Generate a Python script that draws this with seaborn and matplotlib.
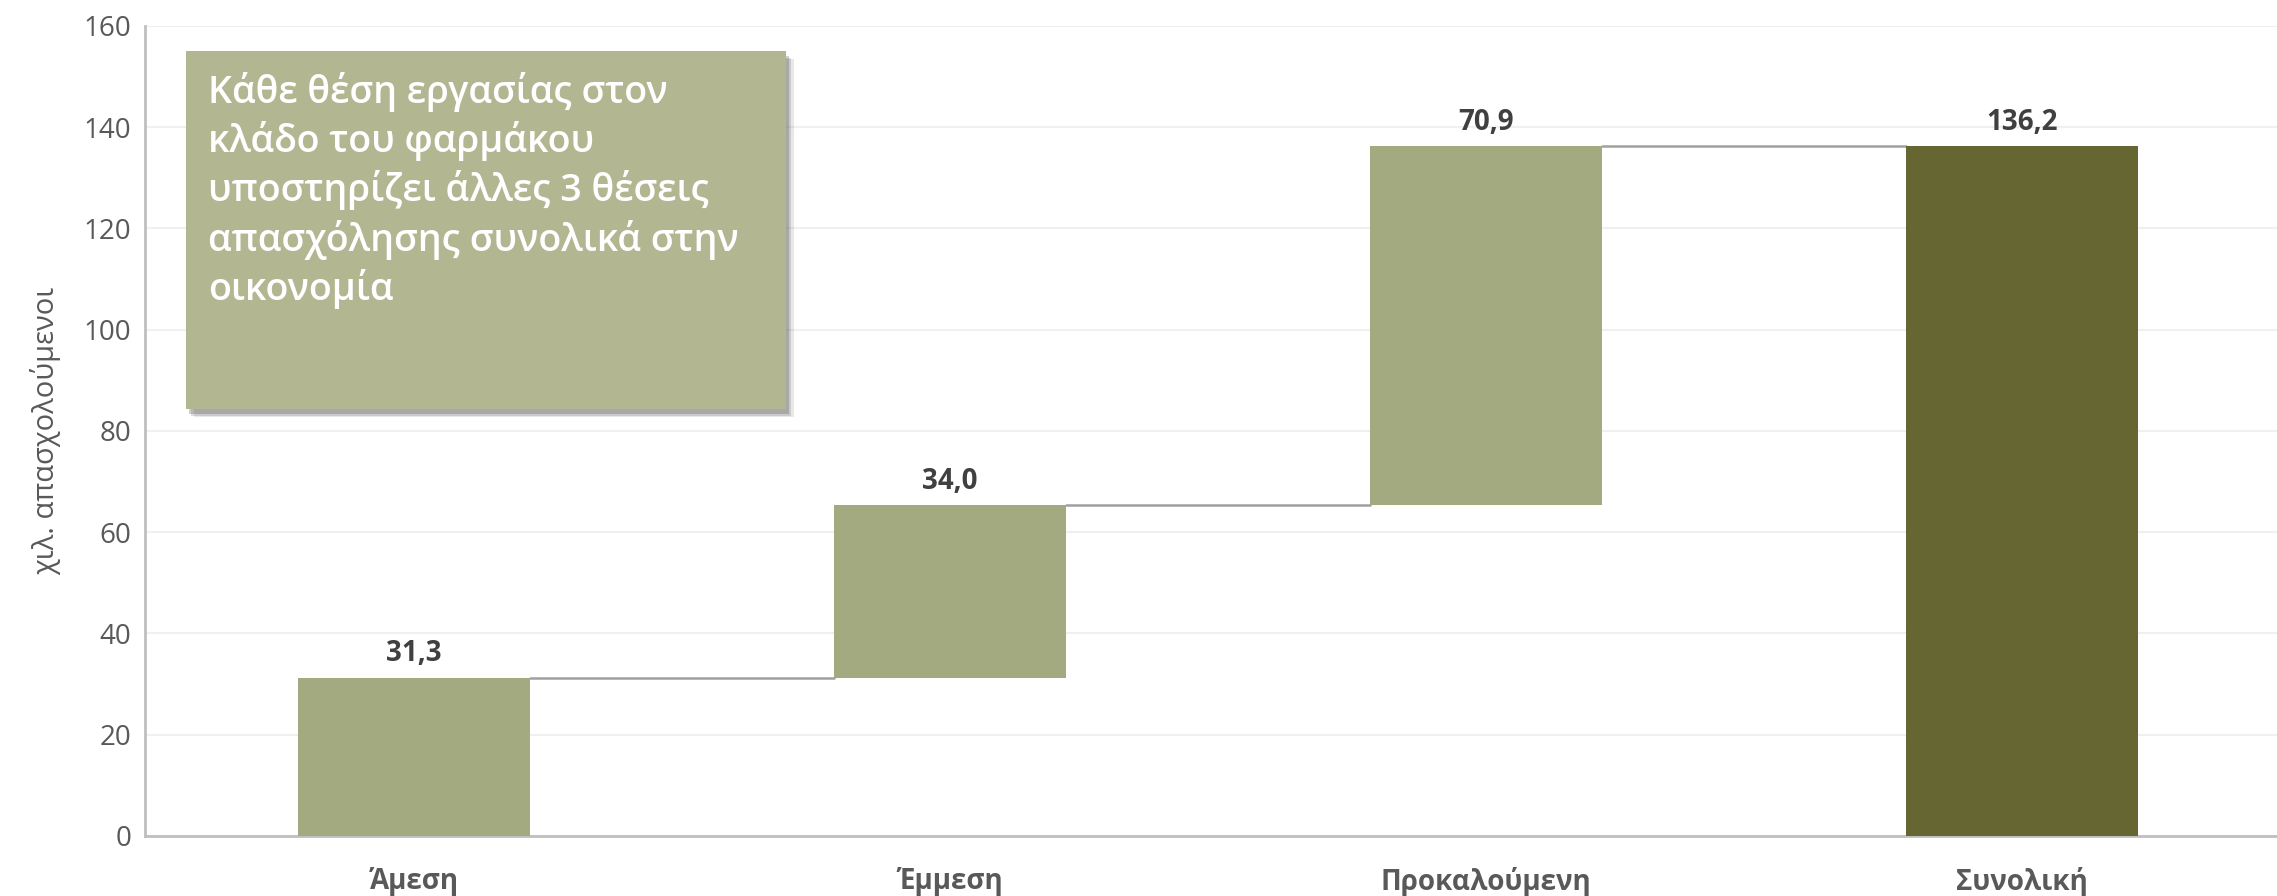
import matplotlib
matplotlib.use("Agg")
import matplotlib.pyplot as plt
import matplotlib.patches as mpatches
import seaborn as sns
import numpy as np
import pandas as pd

categories = ["Άμεση", "Έμμεση", "Προκαλούμενη", "Συνολική"]
values = [31.3, 34.0, 70.9, 136.2]
value_labels = ["31,3", "34,0", "70,9", "136,2"]
is_total = [False, False, False, True]
yticks = [0, 20, 40, 60, 80, 100, 120, 140, 160]
ylabel = "χιλ. απασχολούμενοι"
note = "Κάθε θέση εργασίας στον\nκλάδο του φαρμάκου\nυποστηρίζει άλλες 3 θέσεις\nαπασχόλησης συνολικά στην\nοικονομία"

sns.set_theme(style="white")
plt.rcParams["font.family"] = ["Open Sans", "DejaVu Sans"]

# waterfall bottoms
bottoms = []
run = 0.0
for v, t in zip(values, is_total):
    if t:
        bottoms.append(0.0)
    else:
        bottoms.append(run)
        run += v
tops = [b + v for b, v in zip(bottoms, values)]

light = "#a4aa80"
dark = "#666633"

df = pd.DataFrame({"cat": categories, "val": values, "bottom": bottoms, "total": is_total})
df_step = df[~df["total"]]
df_tot = df[df["total"]]

fig = plt.figure(figsize=(22.77, 8.96), dpi=100)
ax = fig.add_axes([0.0637, 0.067, 0.9363, 0.904])

bw = 0.434
sns.barplot(data=df_step, x="cat", y="val", order=categories, color=light,
            width=bw, bottom=df_step["bottom"].values, ax=ax, saturation=1,
            linewidth=0, zorder=3)
sns.barplot(data=df_tot, x="cat", y="val", order=categories, color=dark,
            width=bw, ax=ax, saturation=1, linewidth=0, zorder=3)

ax.set_ylim(0, 160)
ax.set_xlim(-0.502, 3.476)
ax.set_yticks(yticks)
ax.set_yticklabels([str(t) for t in yticks], fontsize=20, color="#595959")
ax.set_xticks(range(len(categories)))
ax.set_xticklabels(categories, fontsize=20, fontweight="bold", color="#595959")
ax.tick_params(axis="y", length=0, pad=10)
ax.tick_params(axis="x", length=0, pad=22)
ax.set_xlabel("")
ax.set_ylabel(ylabel, fontsize=21, color="#595959", labelpad=16)

ax.yaxis.grid(True, color="#f0f0f0", linewidth=1.5, zorder=0)
ax.set_axisbelow(True)
for s in ["top", "right"]:
    ax.spines[s].set_visible(False)
for s in ["left", "bottom"]:
    ax.spines[s].set_color("#bfbfbf")
    ax.spines[s].set_linewidth(2)

# connectors
for i in range(len(values) - 1):
    y = tops[i]
    ax.plot([i + bw / 2, i + 1 - bw / 2], [y, y], color="#a0a0a0", linewidth=1.8, zorder=2)

# value labels
for i, (t, lab) in enumerate(zip(tops, value_labels)):
    ax.annotate(lab, (i, t), xytext=(0, 7), textcoords="offset points",
                ha="center", va="bottom", fontsize=20, fontweight="bold", color="#404040")

# note box with shadow
bx, by, bwid, bh = 0.0817, 0.5435, 0.2635, 0.3996
for k, a in enumerate([0.12, 0.18, 0.25]):
    d = 0.0012 * (3 - k)
    shadow = mpatches.Rectangle((bx + d, by - 0.004 - d * 1.5), bwid, bh,
                                transform=fig.transFigure, facecolor="#444444",
                                alpha=a, edgecolor="none", zorder=4)
    fig.patches.append(shadow)
box = mpatches.Rectangle((bx, by), bwid, bh, transform=fig.transFigure,
                         facecolor="#b2b792", edgecolor="none", zorder=5)
fig.patches.append(box)
fig.text(0.0913, 0.92, note, color="white", fontsize=27, fontweight="semibold",
         va="top", ha="left", linespacing=1.3, zorder=6)

fig.savefig("out.png", dpi=100)
